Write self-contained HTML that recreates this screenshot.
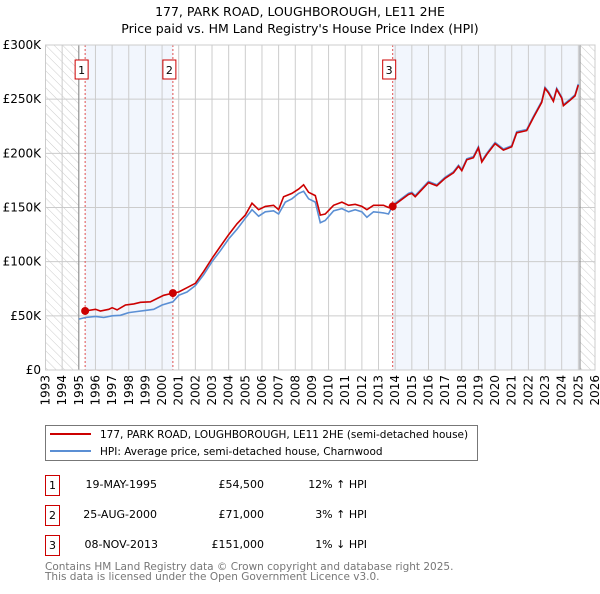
<!DOCTYPE html>
<html><head><meta charset="utf-8"><style>
body{margin:0;background:#fff;font-family:"DejaVu Sans","Liberation Sans",sans-serif;}
svg text{font-family:"DejaVu Sans","Liberation Sans",sans-serif;}
</style></head><body>
<svg id="chart" width="600" height="590" viewBox="0 0 600 590" xmlns="http://www.w3.org/2000/svg">
<defs>
<pattern id="hatch" width="6" height="6" patternUnits="userSpaceOnUse" patternTransform="rotate(-45)">
<line x1="0" y1="0" x2="0" y2="6" stroke="#ccc" stroke-width="1"/>
</pattern>
</defs>
<text x="300" y="16" text-anchor="middle" font-size="12.5">177, PARK ROAD, LOUGHBOROUGH, LE11 2HE</text>
<text x="300" y="33" text-anchor="middle" font-size="12.5">Price paid vs. HM Land Registry's House Price Index (HPI)</text>
<g id="plot"></g>
<g>
<rect x="45.5" y="425.5" width="432" height="35" fill="#fff" stroke="#777"/>
<line x1="50" y1="434" x2="91" y2="434" stroke="#cc0000" stroke-width="2"/>
<text x="100" y="438" font-size="10.5">177, PARK ROAD, LOUGHBOROUGH, LE11 2HE (semi-detached house)</text>
<line x1="50" y1="451" x2="91" y2="451" stroke="#5b8fd4" stroke-width="2"/>
<text x="100" y="455" font-size="10.5">HPI: Average price, semi-detached house, Charnwood</text>
</g>
<g font-size="11">
<g>
<rect x="45.5" y="475.5" width="14" height="20" fill="#fff" stroke="#cc0000"/>
<text x="52.5" y="489" text-anchor="middle">1</text>
<text x="157" y="488" text-anchor="end">19-MAY-1995</text>
<text x="264" y="488" text-anchor="end">£54,500</text>
<text x="367" y="488" text-anchor="end">12% ↑ HPI</text></g>
<g>
<rect x="45.5" y="505.5" width="14" height="20" fill="#fff" stroke="#cc0000"/>
<text x="52.5" y="519" text-anchor="middle">2</text>
<text x="157" y="518" text-anchor="end">25-AUG-2000</text>
<text x="264" y="518" text-anchor="end">£71,000</text>
<text x="367" y="518" text-anchor="end">3% ↑ HPI</text></g>
<g>
<rect x="45.5" y="535.5" width="14" height="20" fill="#fff" stroke="#cc0000"/>
<text x="52.5" y="549" text-anchor="middle">3</text>
<text x="158" y="548" text-anchor="end">08-NOV-2013</text>
<text x="264" y="548" text-anchor="end">£151,000</text>
<text x="367" y="548" text-anchor="end">1% ↓ HPI</text></g>
</g>
<text x="45" y="570" font-size="10.5" fill="#777">Contains HM Land Registry data © Crown copyright and database right 2025.</text>
<text x="45" y="580" font-size="10.5" fill="#777">This data is licensed under the Open Government Licence v3.0.</text>
</svg>
<script>
const yTicks=[0,50,100,150,200,250,300];
const yTickLabels=["£0","£50K","£100K","£150K","£200K","£250K","£300K"];
const xTicks=[1993,1994,1995,1996,1997,1998,1999,2000,2001,2002,2003,2004,2005,2006,2007,2008,2009,2010,2011,2012,2013,2014,2015,2016,2017,2018,2019,2020,2021,2022,2023,2024,2025,2026];
const saleYears=[1995.38,2000.65,2013.85];
const saleValues=[54.5,71,151];
const saleLabels=["1","2","3"];
const hpiYears=[1995.0,1995.4,1996,1996.5,1997,1997.5,1998,1998.5,1999,1999.5,2000,2000.65,2001,2001.5,2002,2002.5,2003,2003.5,2004,2004.5,2005,2005.4,2005.8,2006.2,2006.7,2007,2007.4,2007.8,2008.2,2008.5,2008.8,2009.2,2009.5,2009.8,2010.3,2010.8,2011.2,2011.6,2012,2012.3,2012.7,2013.3,2013.6,2013.85,2014,2014.8,2015,2015.2,2016,2016.5,2017,2017.5,2017.8,2018,2018.3,2018.7,2019,2019.2,2019.5,2019.8,2020,2020.5,2021,2021.3,2021.9,2022.3,2022.8,2023,2023.2,2023.5,2023.7,2024,2024.1,2024.5,2024.8,2025.0];
const hpiValues=[47,48.5,49.5,48.5,50,50.5,53,54,55,56,60,63,69,72,78,88,100,110,121,130,140,148,142,146,147,144,155,158,163,165,158,155,136,138,147,149,146,148,146,141,146,145,144,152,154,163,164,161,174,171,178,183,189,185,195,197,206,193,200,206,210,204,207,220,222,234,248,261,257,249,260,252,245,250,254,264];
const paidYears=[1995.38,1996,1996.3,1996.8,1997,1997.3,1997.8,1998.3,1998.7,1999.3,1999.7,2000.1,2000.65,2001,2001.5,2002,2002.5,2003,2003.5,2004,2004.5,2005,2005.4,2005.8,2006.2,2006.7,2007,2007.3,2007.8,2008.2,2008.5,2008.8,2009.2,2009.5,2009.8,2010.3,2010.8,2011.2,2011.6,2012,2012.3,2012.7,2013.3,2013.6,2013.85,2014,2014.8,2015,2015.2,2016,2016.5,2017,2017.5,2017.8,2018,2018.3,2018.7,2019,2019.2,2019.5,2019.8,2020,2020.5,2021,2021.3,2021.9,2022.3,2022.8,2023,2023.2,2023.5,2023.7,2024,2024.1,2024.5,2024.8,2025.0];
const paidValues=[54.5,56,54.5,56,57.5,55.5,60,61,62.5,63,66,69,71,72,76,80,91,103,114,125,135,143,154,148,151,152,148,160,163,167,171,164,161,143,144,152,155,152,153,151,148,152,152,150,151,153,162,163,160,173,170,177,182,188,184,194,196,205,192,199,205,209,203,206,219,221,233,247,260,256,248,259,251,244,249,253,263];

const NS="http://www.w3.org/2000/svg";
const X0=45.5,X1=595,Y0=370,Y1=45;
const xs=y=>X0+(y-1993)*(X1-X0)/33;
const ys=v=>Y0-v*(Y0-Y1)/300;
const plot=document.getElementById('plot');
function mk(tag,attrs,parent){const e=document.createElementNS(NS,tag);for(const k in attrs)e.setAttribute(k,attrs[k]);(parent||plot).appendChild(e);return e;}

mk('rect',{x:X0,y:Y1,width:X1-X0,height:Y0-Y1,fill:'#fff'});
let r=mk('rect',{x:X0,y:Y1,width:xs(1995)-X0,height:Y0-Y1,fill:'url(#hatch)'});


r=mk('rect',{x:xs(2025.1),y:Y1,width:X1-xs(2025.1),height:Y0-Y1,fill:'url(#hatch)'});


r=mk('rect',{x:xs(saleYears[0]),y:Y1,width:xs(saleYears[1])-xs(saleYears[0]),height:Y0-Y1,fill:'#f2f6fd'});


r=mk('rect',{x:xs(saleYears[2]),y:Y1,width:xs(2025.1)-xs(saleYears[2]),height:Y0-Y1,fill:'#f2f6fd'});



xTicks.forEach(t=>{
  const l=mk('line',{x1:xs(t),x2:xs(t),y1:Y1,y2:Y0,stroke:'#ccc','stroke-width':1});
  
  
  const tx=mk('text',{x:0,y:0,'font-size':12,'text-anchor':'end',transform:`translate(${xs(t)+4},${Y0+5}) rotate(-90)`});
  tx.textContent=t;
  
  
});
yTicks.forEach((t,i)=>{
  const l=mk('line',{x1:X0,x2:X1,y1:ys(t),y2:ys(t),stroke:'#ccc','stroke-width':1});
  
  
  const tx=mk('text',{x:41,y:ys(t)+4,'font-size':12,'text-anchor':'end'});
  tx.textContent=yTickLabels[i];
  
  
});
let b=mk('line',{x1:xs(1995),x2:xs(1995),y1:Y1,y2:Y0,stroke:'#888','stroke-width':1});


b=mk('line',{x1:xs(2025.1),x2:xs(2025.1),y1:Y1,y2:Y0,stroke:'#888','stroke-width':1});



saleYears.forEach((yr,i)=>{
  const l=mk('line',{x1:xs(yr),x2:xs(yr),y1:Y1,y2:Y0,stroke:'#e05050','stroke-width':1,'stroke-dasharray':'2,2'});
  
  
  const bx=mk('rect',{x:xs(yr)-10,y:60,width:13,height:19,fill:'#fff',stroke:'#cc0000'});
  
  
  const t=mk('text',{x:xs(yr)-3.5,y:74,'font-size':11,'text-anchor':'middle'});
  t.textContent=saleLabels[i];
  
  
});

const path=(xa,va)=>xa.map((x,i)=>(i?'L':'M')+xs(x).toFixed(1)+','+ys(va[i]).toFixed(1)).join('');
const hp=mk('path',{d:path(hpiYears,hpiValues),fill:'none',stroke:'#5b8fd4','stroke-width':1.6});


const pp=mk('path',{d:path(paidYears,paidValues),fill:'none',stroke:'#cc0000','stroke-width':1.6});


saleYears.forEach((yr,i)=>{
  const c=mk('circle',{cx:xs(yr),cy:ys(saleValues[i]),r:4,fill:'#cc0000'});
  
  
});
const fr=mk('rect',{x:X0,y:Y1,width:X1-X0,height:Y0-Y1,fill:'none',stroke:'#ccc'});


</script>
</body></html>
